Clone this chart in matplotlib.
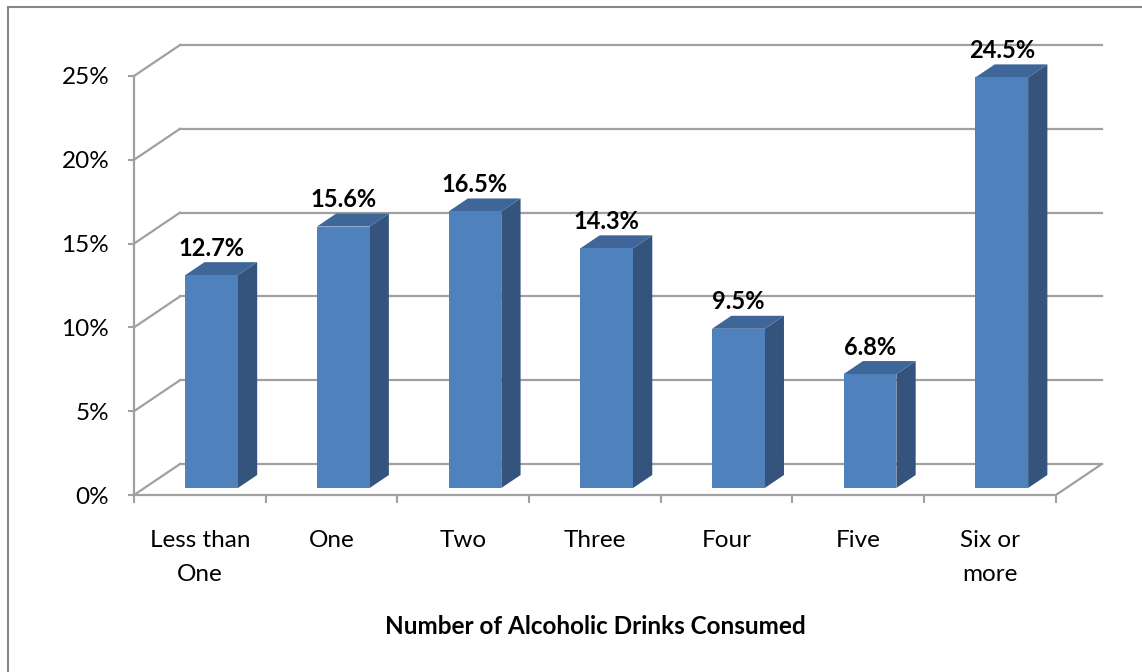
import matplotlib
matplotlib.use("Agg")
import matplotlib.pyplot as plt
from matplotlib.patches import Polygon
from matplotlib.lines import Line2D

categories = ["Less than\nOne", "One", "Two", "Three", "Four", "Five", "Six or\nmore"]
values = [12.7, 15.6, 16.5, 14.3, 9.5, 6.8, 24.5]
labels = ["12.7%", "15.6%", "16.5%", "14.3%", "9.5%", "6.8%", "24.5%"]
yticks = [0, 5, 10, 15, 20, 25]
ytick_labels = ["0%", "5%", "10%", "15%", "20%", "25%"]
xlabel = "Number of Alcoholic Drinks Consumed"

FONT = ["Lato", "DejaVu Sans"]
plt.rcParams["font.family"] = FONT

W, H = 1142, 672
fig = plt.figure(figsize=(W / 100, H / 100), dpi=100)

# pixel geometry of plot
px_cat = 131.7
px_pct = 16.76
x0_px, y0_px = 134, 495
XMAX, YMAX = 7.4, 27
ax = fig.add_axes([x0_px / W, (H - y0_px) / H, XMAX * px_cat / W, YMAX * px_pct / H])
ax.set_xlim(0, XMAX)
ax.set_ylim(0, YMAX)

DX, DY = 46 / px_cat, 31 / px_pct   # depth offset in data units
f0, f1 = 0.226, 0.645             # bar front/back depth fractions
bw = 0.40

grid_c = "#A0A0A0"
n = len(categories)

def P(x, y, d):
    return (x + d * DX, y + d * DY)

# back wall gridlines + left wall diagonals
for t in yticks:
    ax.add_line(Line2D(*zip(P(0, t, 1), P(n, t, 1)), color=grid_c, lw=1.6, zorder=1))
    ax.add_line(Line2D(*zip(P(0, t, 0), P(0, t, 1)), color=grid_c, lw=1.6, zorder=1))
# floor right edge
ax.add_line(Line2D(*zip(P(n, 0, 0), P(n, 0, 1)), color=grid_c, lw=1.6, zorder=1))

front_c = "#4F81BD"
side_c = "#34547D"
top_c = "#3E6698"

for i, v in enumerate(values):
    cx = i + 0.5 + 0.01
    xa, xb = cx - bw / 2, cx + bw / 2
    front = [P(xa, 0, f0), P(xb, 0, f0), P(xb, v, f0), P(xa, v, f0)]
    side = [P(xb, 0, f0), P(xb, 0, f1), P(xb, v, f1), P(xb, v, f0)]
    top = [P(xa, v, f0), P(xb, v, f0), P(xb, v, f1), P(xa, v, f1)]
    ax.add_patch(Polygon(side, closed=True, fc=side_c, ec="none", zorder=3))
    ax.add_patch(Polygon(top, closed=True, fc=top_c, ec="none", zorder=3))
    ax.add_patch(Polygon(front, closed=True, fc=front_c, ec="none", zorder=4))
    lx, ly = P(cx, v, f1)
    ax.annotate(labels[i], (P(cx, v, f0)[0], ly), xytext=(0, 10), textcoords="offset points",
                ha="center", va="center", fontsize=17, fontweight="bold", color="black",
                zorder=5, annotation_clip=False)

# axes spines
for s in ["top", "right"]:
    ax.spines[s].set_visible(False)
for s in ["left", "bottom"]:
    ax.spines[s].set_color(grid_c)
    ax.spines[s].set_linewidth(1.6)
ax.spines["left"].set_bounds(0, 25)
ax.spines["bottom"].set_bounds(0, n)

ax.set_yticks(yticks)
ax.set_yticklabels(ytick_labels, fontsize=17.5)
ax.tick_params(axis="y", direction="out", length=4.3, width=1.5, color=grid_c, pad=13.5)

ax.set_xticks(range(n + 1))
ax.set_xticklabels([])
ax.set_xticks([i + 0.5 for i in range(n)], minor=True)
ax.set_xticklabels(categories, minor=True, fontsize=17.5, linespacing=1.72)
ax.tick_params(axis="x", which="minor", length=0, pad=25.5)
ax.tick_params(axis="x", which="major", direction="out", length=5.8, width=1.5, color=grid_c)

ax.set_xlabel(xlabel, fontsize=17.5, fontweight="bold", labelpad=24)
ax.xaxis.set_label_coords(3.5 / XMAX, -(626 - y0_px) / (YMAX * px_pct), transform=ax.transAxes)
ax.xaxis.label.set_va("center")

# outer border (left & top only visible)
border_c = "#878787"
fig.add_artist(Line2D([7.5 / W, 7.5 / W], [0, 1 - 6.5 / H], color=border_c, lw=1.5,
                      transform=fig.transFigure))
fig.add_artist(Line2D([7.5 / W, 1], [1 - 6.5 / H, 1 - 6.5 / H], color=border_c, lw=1.5,
                      transform=fig.transFigure))

fig.savefig("out.png", dpi=100, facecolor="white")
